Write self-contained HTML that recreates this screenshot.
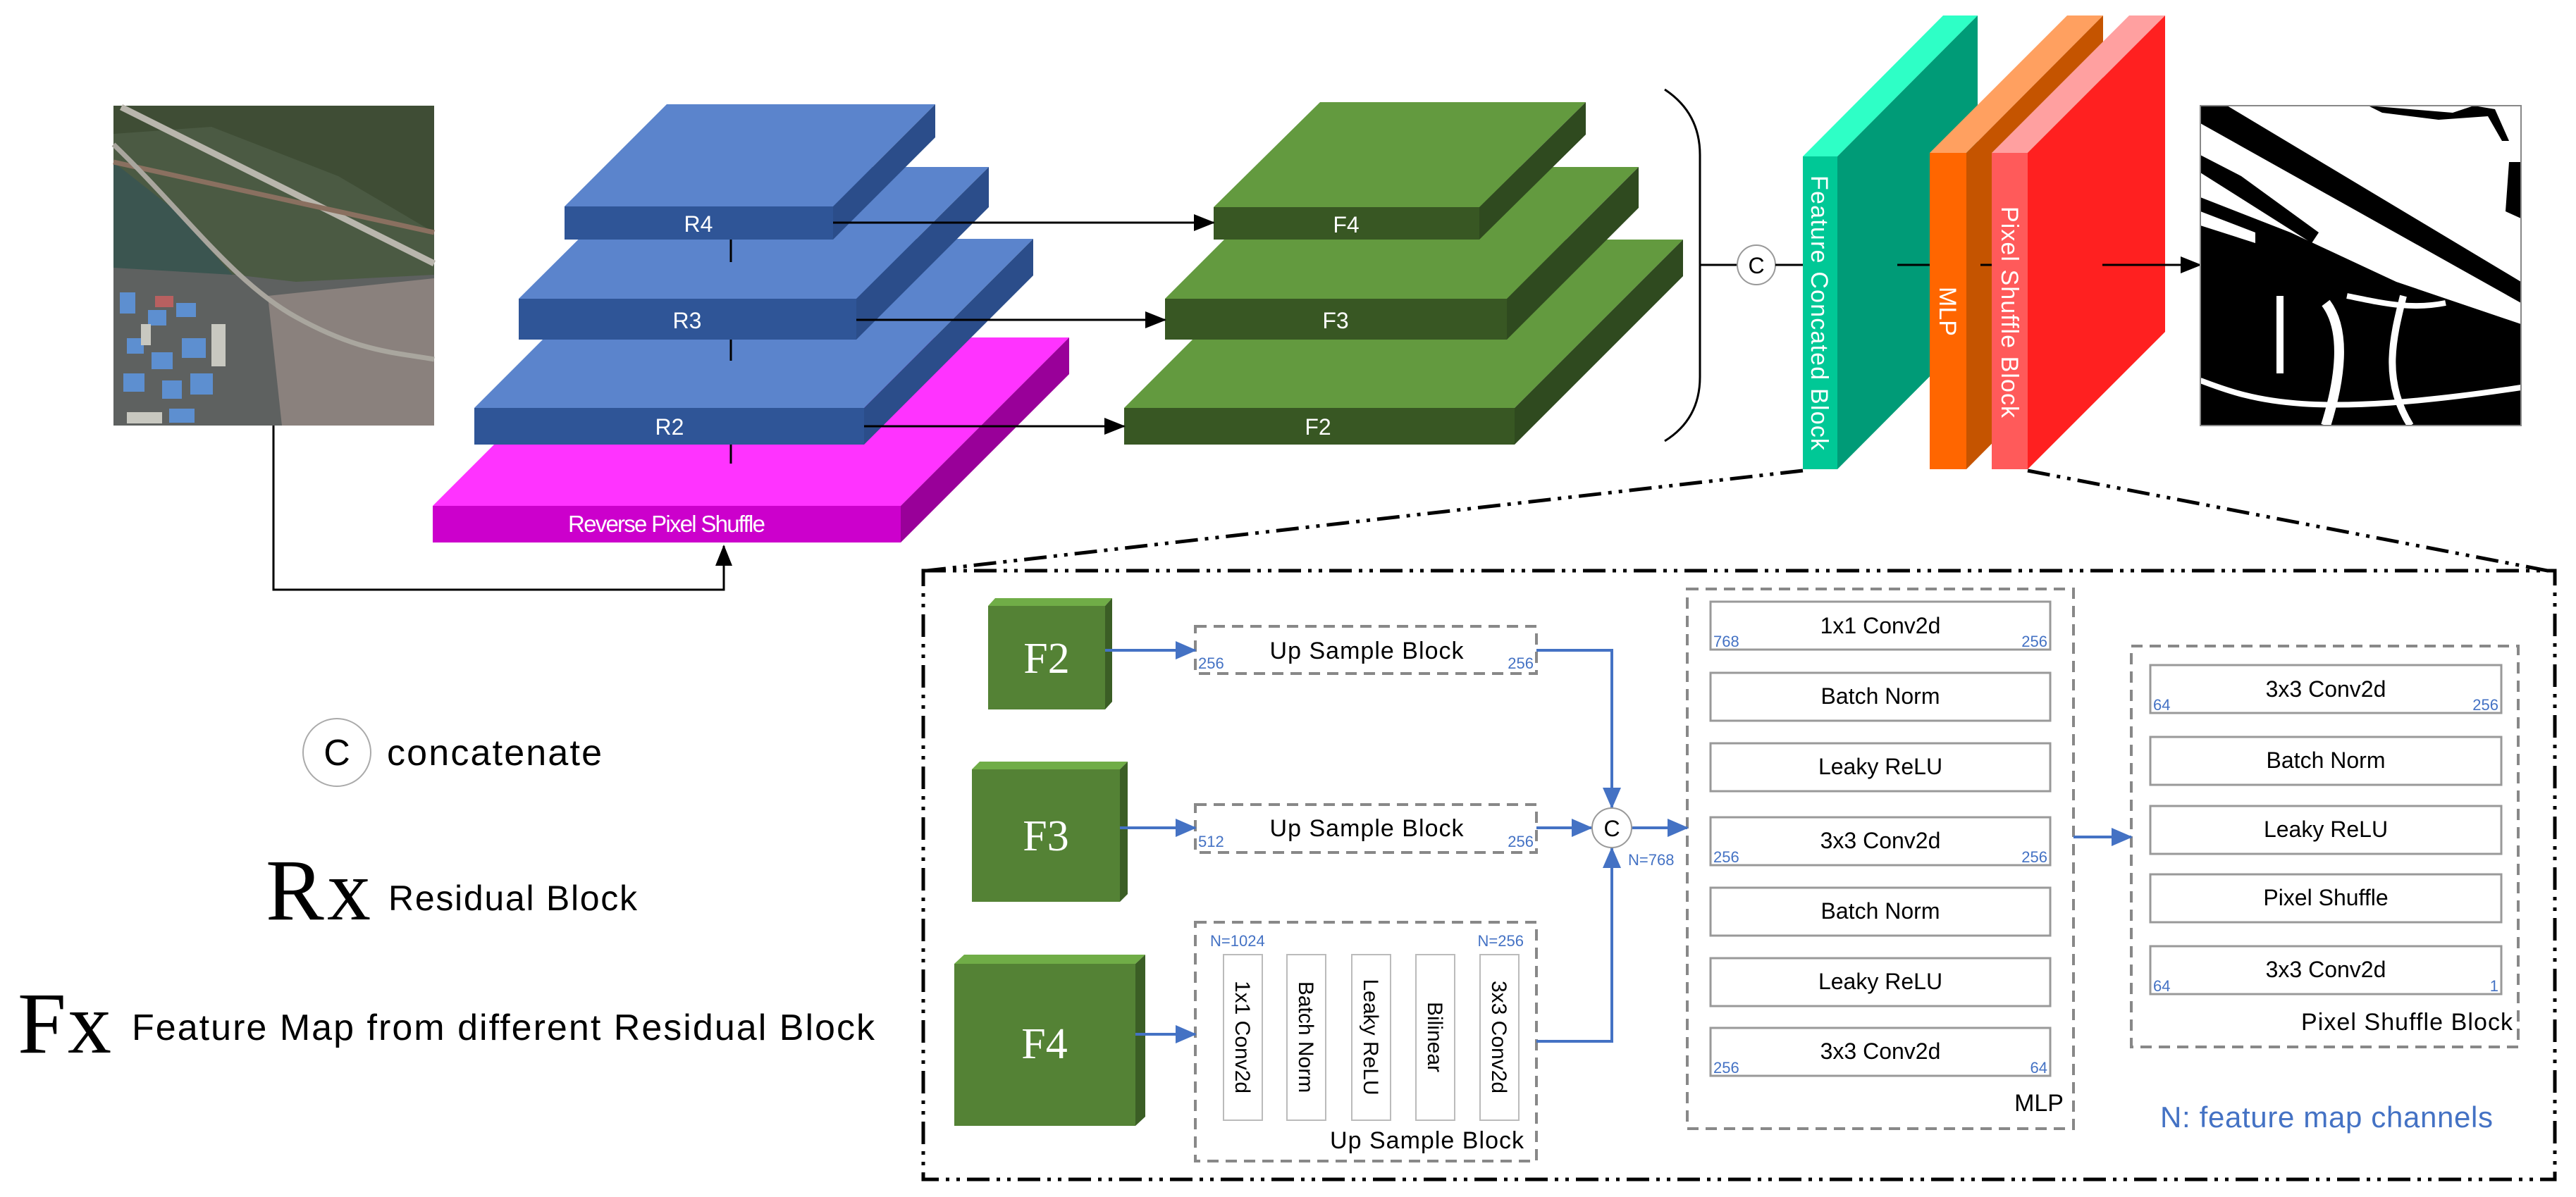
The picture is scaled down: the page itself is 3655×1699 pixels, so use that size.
<!DOCTYPE html>
<html><head><meta charset="utf-8"><style>
html,body{margin:0;padding:0;background:#fff;}
svg{display:block;}
text{font-family:"Liberation Sans",sans-serif;}
text.serif{font-family:"Liberation Serif",serif;}
</style></head><body>
<svg width="3655" height="1699" viewBox="0 0 3655 1699" xmlns="http://www.w3.org/2000/svg">
<defs>
<marker id="akb" markerWidth="30" markerHeight="30" refX="28" refY="15" orient="auto" markerUnits="userSpaceOnUse" viewBox="0 0 30 30"><path d="M0,3 L30,15 L0,27 z" fill="#000"/></marker>
<marker id="ab" markerWidth="30" markerHeight="30" refX="28" refY="15" orient="auto" markerUnits="userSpaceOnUse" viewBox="0 0 30 30"><path d="M0,2 L30,15 L0,28 z" fill="#4472c4"/></marker>
</defs>

<!-- satellite image -->
<g>
<rect x="161" y="150" width="455" height="454" fill="#4b5a43"/>
<polygon points="161,150 616,150 616,330 480,250 300,180 161,190" fill="#3f4d35"/>
<polygon points="161,370 420,400 616,390 616,604 161,604" fill="#5e6160"/>
<polygon points="380,420 616,395 616,604 400,604" fill="#8a817d"/>
<polygon points="161,230 250,300 330,390 161,380" fill="#3b5550"/>
<g fill="#5d8fd0">
<rect x="170" y="415" width="22" height="30"/><rect x="210" y="440" width="26" height="22"/><rect x="250" y="430" width="28" height="20"/>
<rect x="180" y="480" width="24" height="22"/><rect x="215" y="500" width="30" height="24"/><rect x="258" y="480" width="34" height="28"/>
<rect x="175" y="530" width="30" height="26"/><rect x="230" y="540" width="28" height="26"/><rect x="270" y="530" width="32" height="30"/>
<rect x="240" y="580" width="36" height="20"/></g>
<rect x="220" y="420" width="26" height="16" fill="#b86060"/>
<g fill="#c8c8c0"><rect x="200" y="460" width="14" height="30"/><rect x="300" y="460" width="20" height="60"/><rect x="180" y="585" width="50" height="16"/></g>
<line x1="172" y1="152" x2="616" y2="374" stroke="#b9b6ad" stroke-width="9"/>
<line x1="161" y1="230" x2="616" y2="330" stroke="#8a7060" stroke-width="7"/>
<path d="M161,205 C260,300 330,400 420,450 S560,500 616,510" stroke="#a9a69e" stroke-width="7" fill="none"/>
</g>

<polyline points="388,604 388,837 1027,837 1027,775" fill="none" stroke="#000" stroke-width="3" marker-end="url(#akb)"/>

<!-- blue stack -->
<g>
<polygon points="614,718 853,479 1517,479 1278,718" fill="#ff33ff"/>
<polygon points="1278,718 1517,479 1517,531 1278,770" fill="#990099"/>
<rect x="614" y="718" width="664" height="52" fill="#cc00cc"/>
<text x="946" y="755" font-size="33" fill="#fff" text-anchor="middle" textLength="280">Reverse Pixel Shuffle</text>

<line x1="1037" y1="631" x2="1037" y2="658" stroke="#000" stroke-width="3"/>
<polygon points="673,579 913,339 1466,339 1226,579" fill="#5b84cc"/>
<polygon points="1226,579 1466,339 1466,391 1226,631" fill="#2b4d8a"/>
<rect x="673" y="579" width="553" height="52" fill="#2f5597"/>
<text x="950" y="617" font-size="32" fill="#fff" text-anchor="middle">R2</text>

<line x1="1037" y1="482" x2="1037" y2="512" stroke="#000" stroke-width="3"/>
<polygon points="736,424 924,237 1403,237 1215,424" fill="#5b84cc"/>
<polygon points="1215,424 1403,237 1403,294 1215,482" fill="#2b4d8a"/>
<rect x="736" y="424" width="479" height="58" fill="#2f5597"/>
<text x="975" y="466" font-size="32" fill="#fff" text-anchor="middle">R3</text>

<line x1="1037" y1="340" x2="1037" y2="372" stroke="#000" stroke-width="3"/>
<polygon points="801,293 946,148 1327,148 1182,293" fill="#5b84cc"/>
<polygon points="1182,293 1327,148 1327,195 1182,340" fill="#2b4d8a"/>
<rect x="801" y="293" width="381" height="47" fill="#2f5597"/>
<text x="991" y="329" font-size="32" fill="#fff" text-anchor="middle">R4</text>
</g>

<!-- green stack -->
<g>
<line x1="1959" y1="482" x2="1959" y2="512" stroke="#000" stroke-width="3"/>
<polygon points="1595,579 1834,340 2388,340 2149,579" fill="#639a3f"/>
<polygon points="2149,579 2388,340 2388,392 2149,631" fill="#2f4a1f"/>
<rect x="1595" y="579" width="554" height="52" fill="#385723"/>
<text x="1870" y="617" font-size="32" fill="#fff" text-anchor="middle">F2</text>

<line x1="1959" y1="340" x2="1959" y2="372" stroke="#000" stroke-width="3"/>
<polygon points="1653,424 1840,237 2325,237 2138,424" fill="#639a3f"/>
<polygon points="2138,424 2325,237 2325,295 2138,482" fill="#2f4a1f"/>
<rect x="1653" y="424" width="485" height="58" fill="#385723"/>
<text x="1895" y="466" font-size="32" fill="#fff" text-anchor="middle">F3</text>

<polygon points="1722,294 1873,145 2250,145 2099,294" fill="#639a3f"/>
<polygon points="2099,294 2250,145 2250,191 2099,340" fill="#2f4a1f"/>
<rect x="1722" y="294" width="377" height="46" fill="#385723"/>
<text x="1910" y="330" font-size="32" fill="#fff" text-anchor="middle">F4</text>
</g>

<line x1="1182" y1="316" x2="1722" y2="316" stroke="#000" stroke-width="3" marker-end="url(#akb)"/>
<line x1="1215" y1="454" x2="1653" y2="454" stroke="#000" stroke-width="3" marker-end="url(#akb)"/>
<line x1="1226" y1="605" x2="1595" y2="605" stroke="#000" stroke-width="3" marker-end="url(#akb)"/>

<path d="M2362,127 Q2412,160 2412,220 L2412,535 Q2412,595 2362,626" fill="none" stroke="#000" stroke-width="3"/>
<line x1="2412" y1="376" x2="2464" y2="376" stroke="#000" stroke-width="3"/>
<ellipse cx="2492" cy="376" rx="27" ry="28" fill="#fff" stroke="#999" stroke-width="2"/>
<text x="2492" y="388" font-size="32" text-anchor="middle">C</text>
<line x1="2519" y1="376" x2="2558" y2="376" stroke="#000" stroke-width="3"/>

<polygon points="2558,222 2757,22 2806,22 2607,222" fill="#2effc6"/>
<polygon points="2607,222 2806,22 2806,466 2607,666" fill="#009b77"/>
<rect x="2558" y="222" width="49" height="444" fill="#00c896"/>
<text transform="translate(2570,444) rotate(90)" font-size="34" fill="#fff" text-anchor="middle" textLength="390">Feature Concated Block</text>
<line x1="2692" y1="376" x2="2738" y2="376" stroke="#000" stroke-width="3"/>

<polygon points="2738,217 2933,22 2984,22 2790,217" fill="#ffa060"/>
<polygon points="2790,217 2984,22 2984,471 2790,666" fill="#c55400"/>
<rect x="2738" y="217" width="52" height="449" fill="#ff6600"/>
<text transform="translate(2752,442) rotate(90)" font-size="34" fill="#fff" text-anchor="middle">MLP</text>
<line x1="2810" y1="376" x2="2826" y2="376" stroke="#000" stroke-width="3"/>

<polygon points="2826,217 3021,22 3072,22 2877,217" fill="#ffa0a0"/>
<polygon points="2877,217 3072,22 3072,471 2877,666" fill="#ff2020"/>
<rect x="2826" y="217" width="51" height="449" fill="#ff5a5a"/>
<text transform="translate(2840,443) rotate(90)" font-size="34" fill="#fff" text-anchor="middle" textLength="300">Pixel Shuffle Block</text>
<line x1="2983" y1="376" x2="3122" y2="376" stroke="#000" stroke-width="3" marker-end="url(#akb)"/>

<!-- output mask -->
<g>
<rect x="3122" y="150" width="455" height="454" fill="#fff"/>
<polygon points="3122,280 3250,330 3400,400 3577,460 3577,604 3122,604" fill="#000"/>
<polygon points="3122,150 3160,150 3577,400 3577,430 3122,175" fill="#000"/>
<polygon points="3122,220 3180,250 3290,330 3280,345 3122,245" fill="#000"/>
<polygon points="3360,150 3480,160 3510,150 3540,155 3560,200 3550,200 3530,165 3460,170 3380,160" fill="#000"/>
<polygon points="3560,230 3577,230 3577,310 3555,300" fill="#000"/>
<polygon points="3122,300 3200,330 3200,345 3122,320" fill="#fff"/>
<path d="M3300,430 C3330,470 3320,540 3300,604" stroke="#fff" stroke-width="14" fill="none"/>
<path d="M3410,420 C3395,480 3380,540 3420,604" stroke="#fff" stroke-width="10" fill="none"/>
<path d="M3122,540 C3200,570 3280,595 3577,550" stroke="#fff" stroke-width="8" fill="none"/>
<rect x="3230" y="420" width="10" height="110" fill="#fff"/>
<path d="M3330,420 C3380,430 3420,440 3470,430" stroke="#fff" stroke-width="8" fill="none"/>
<rect x="3122" y="150" width="455" height="454" fill="none" stroke="#888" stroke-width="2"/>
</g>

<g stroke="#000" stroke-width="5" fill="none" stroke-dasharray="32 10 5 10 5 10">
<line x1="2558" y1="668" x2="1315" y2="810"/>
<line x1="2877" y1="668" x2="3625" y2="812"/>
<rect x="1310" y="810" width="2315" height="864"/>
</g>

<!-- legend -->
<ellipse cx="478" cy="1068" rx="48" ry="48" fill="#fff" stroke="#aaa" stroke-width="2"/>
<text x="478" y="1086" font-size="52" text-anchor="middle">C</text>
<text x="549" y="1086" font-size="52" textLength="305">concatenate</text>
<text class="serif" x="377" y="1305" font-size="124" textLength="149">Rx</text>
<text x="551" y="1292" font-size="50" textLength="353">Residual Block</text>
<text class="serif" x="25" y="1494" font-size="124" textLength="133">Fx</text>
<text x="187" y="1476" font-size="52" textLength="1054">Feature Map from different Residual Block</text>

<g>
<polygon points="1402,860 1412,849 1578,849 1568,860" fill="#70ad47"/>
<polygon points="1568,860 1578,849 1578,996 1568,1007" fill="#3b5e25"/>
<rect x="1402" y="860" width="166" height="147" fill="#548235"/>
<text class="serif" x="1485" y="955" font-size="62" fill="#fff" text-anchor="middle">F2</text>

<polygon points="1379,1092 1390,1081 1600,1081 1589,1092" fill="#70ad47"/>
<polygon points="1589,1092 1600,1081 1600,1269 1589,1280" fill="#3b5e25"/>
<rect x="1379" y="1092" width="210" height="188" fill="#548235"/>
<text class="serif" x="1484" y="1207" font-size="62" fill="#fff" text-anchor="middle">F3</text>

<polygon points="1354,1368 1368,1355 1625,1355 1611,1368" fill="#70ad47"/>
<polygon points="1611,1368 1625,1355 1625,1585 1611,1598" fill="#3b5e25"/>
<rect x="1354" y="1368" width="257" height="230" fill="#548235"/>
<text class="serif" x="1482" y="1502" font-size="62" fill="#fff" text-anchor="middle">F4</text>
</g>

<g stroke="#888" stroke-width="4" fill="none" stroke-dasharray="16 10">
<rect x="1696" y="889" width="484" height="67"/>
<rect x="1696" y="1142" width="484" height="68"/>
<rect x="1696" y="1309" width="484" height="339"/>
<rect x="2394" y="836" width="548" height="766"/>
<rect x="3024" y="917" width="549" height="569"/>
</g>
<text x="1939" y="935" font-size="34" text-anchor="middle" textLength="275">Up Sample Block</text>
<text x="1939" y="1187" font-size="34" text-anchor="middle" textLength="275">Up Sample Block</text>
<g font-size="22" fill="#4472c4">
<text x="1700" y="949">256</text><text x="2176" y="949" text-anchor="end">256</text>
<text x="1700" y="1202">512</text><text x="2176" y="1202" text-anchor="end">256</text>
<text x="1717" y="1343">N=1024</text><text x="2162" y="1343" text-anchor="end">N=256</text>
<text x="2310" y="1228">N=768</text>
</g>
<g stroke="#bbb" stroke-width="2" fill="#fff">
<rect x="1736" y="1355" width="55" height="235"/>
<rect x="1826" y="1355" width="55" height="235"/>
<rect x="1918" y="1355" width="55" height="235"/>
<rect x="2009" y="1355" width="55" height="235"/>
<rect x="2100" y="1355" width="55" height="235"/>
</g>
<g font-size="30" text-anchor="middle">
<text transform="translate(1753,1472) rotate(90)">1x1 Conv2d</text>
<text transform="translate(1843,1472) rotate(90)">Batch Norm</text>
<text transform="translate(1935,1472) rotate(90)">Leaky ReLU</text>
<text transform="translate(2026,1472) rotate(90)">Bilinear</text>
<text transform="translate(2117,1472) rotate(90)">3x3 Conv2d</text>
</g>
<text x="2162" y="1630" font-size="34" text-anchor="end" textLength="275">Up Sample Block</text>

<g stroke="#4472c4" stroke-width="4" fill="none">
<line x1="1568" y1="923" x2="1696" y2="923" marker-end="url(#ab)"/>
<line x1="1589" y1="1175" x2="1696" y2="1175" marker-end="url(#ab)"/>
<line x1="1611" y1="1468" x2="1696" y2="1468" marker-end="url(#ab)"/>
<polyline points="2180,923 2287,923 2287,1146" marker-end="url(#ab)"/>
<line x1="2180" y1="1175" x2="2258" y2="1175" marker-end="url(#ab)"/>
<polyline points="2180,1478 2287,1478 2287,1204" marker-end="url(#ab)"/>
<line x1="2316" y1="1175" x2="2394" y2="1175" marker-end="url(#ab)"/>
<line x1="2942" y1="1188" x2="3024" y2="1188" marker-end="url(#ab)"/>
</g>
<ellipse cx="2287" cy="1175" rx="28" ry="28" fill="#fff" stroke="#999" stroke-width="2"/>
<text x="2287" y="1187" font-size="32" text-anchor="middle">C</text>

<g stroke="#999" stroke-width="3" fill="#fff">
<rect x="2427" y="854" width="482" height="68"/>
<rect x="2427" y="955" width="482" height="68"/>
<rect x="2427" y="1055" width="482" height="68"/>
<rect x="2427" y="1160" width="482" height="68"/>
<rect x="2427" y="1260" width="482" height="68"/>
<rect x="2427" y="1360" width="482" height="68"/>
<rect x="2427" y="1459" width="482" height="68"/>
<rect x="3051" y="944" width="498" height="68"/>
<rect x="3051" y="1046" width="498" height="68"/>
<rect x="3051" y="1144" width="498" height="68"/>
<rect x="3051" y="1241" width="498" height="68"/>
<rect x="3051" y="1343" width="498" height="68"/>
</g>
<g font-size="32" text-anchor="middle">
<text x="2668" y="899">1x1 Conv2d</text>
<text x="2668" y="999">Batch Norm</text>
<text x="2668" y="1099">Leaky ReLU</text>
<text x="2668" y="1204">3x3 Conv2d</text>
<text x="2668" y="1304">Batch Norm</text>
<text x="2668" y="1404">Leaky ReLU</text>
<text x="2668" y="1503">3x3 Conv2d</text>
<text x="3300" y="989">3x3 Conv2d</text>
<text x="3300" y="1090">Batch Norm</text>
<text x="3300" y="1188">Leaky ReLU</text>
<text x="3300" y="1285">Pixel Shuffle</text>
<text x="3300" y="1387">3x3 Conv2d</text>
</g>
<g font-size="22" fill="#4472c4">
<text x="2431" y="918">768</text><text x="2905" y="918" text-anchor="end">256</text>
<text x="2431" y="1224">256</text><text x="2905" y="1224" text-anchor="end">256</text>
<text x="2431" y="1523">256</text><text x="2905" y="1523" text-anchor="end">64</text>
<text x="3055" y="1008">64</text><text x="3545" y="1008" text-anchor="end">256</text>
<text x="3055" y="1407">64</text><text x="3545" y="1407" text-anchor="end">1</text>
</g>
<text x="2928" y="1577" font-size="34" text-anchor="end">MLP</text>
<text x="3565" y="1462" font-size="34" text-anchor="end" textLength="300">Pixel Shuffle Block</text>
<text x="3301" y="1600" font-size="42" fill="#4472c4" text-anchor="middle" textLength="472">N: feature map channels</text>
</svg>
</body></html>
